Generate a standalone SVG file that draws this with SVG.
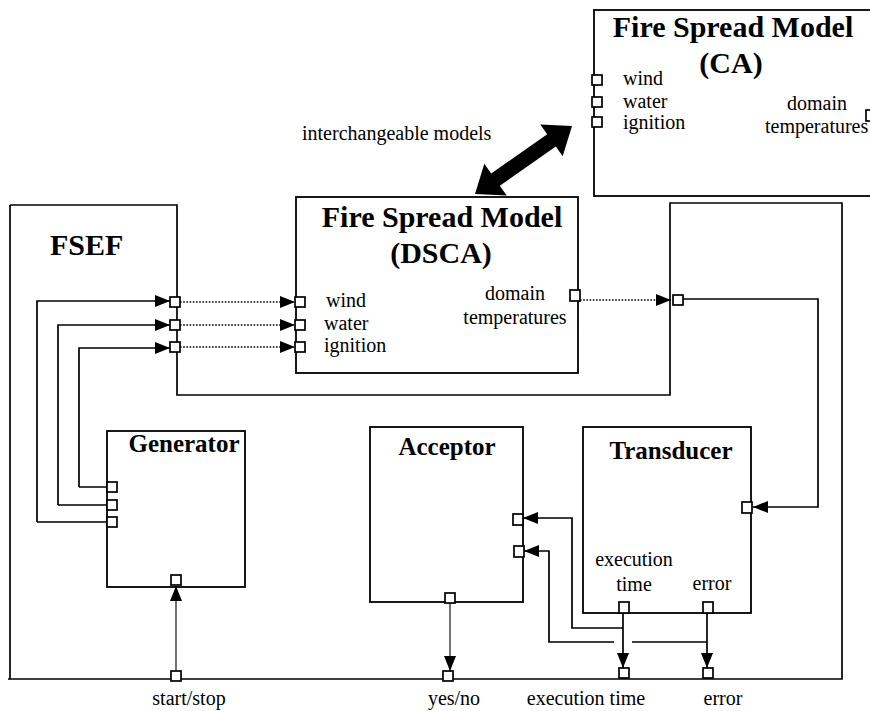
<svg xmlns="http://www.w3.org/2000/svg" width="870" height="711" viewBox="0 0 870 711">
<style>
text{font-family:"Liberation Serif","Times New Roman",serif;fill:#000}
.t{font-size:20px}
.b{font-size:30px;font-weight:bold}
.s{font-size:25px;font-weight:bold}
.box{fill:#fff;stroke:#000;stroke-width:1.8}
.port{fill:#fff;stroke:#000;stroke-width:1.7}
.ln{fill:none;stroke:#000;stroke-width:1.7}
.thin{fill:none;stroke:#000;stroke-width:1.1}
.dot{fill:none;stroke:#000;stroke-width:1.6;stroke-dasharray:1.6 1.6}
</style>
<defs>
<marker id="ah" markerUnits="userSpaceOnUse" markerWidth="16" markerHeight="13" refX="15" refY="6" orient="auto">
<path d="M0,0 L15,6 L0,12 z" fill="#000"/>
</marker>
</defs>
<rect width="870" height="711" fill="#fff"/>

<g id="fsef">
<path class="ln" d="M10,205 H177 V395 H670 V203 H842 V679 H8"/>
<path class="ln" d="M10,205 V679"/>
<text class="b" x="50" y="255">FSEF</text>
<rect class="port" x="170" y="297" width="10" height="10"/>
<rect class="port" x="170" y="320" width="10" height="10"/>
<rect class="port" x="170" y="342" width="10" height="10"/>
<rect class="port" x="673" y="295" width="10" height="10"/>
<rect class="port" x="171" y="671" width="10" height="10"/>
<rect class="port" x="443" y="671" width="10" height="10"/>
<rect class="port" x="619" y="668" width="10" height="10"/>
<rect class="port" x="703" y="668" width="10" height="10"/>
<text class="t" x="189" y="705" text-anchor="middle">start/stop</text>
<text class="t" x="454" y="705" text-anchor="middle">yes/no</text>
<text class="t" x="586" y="705" text-anchor="middle">execution time</text>
<text class="t" x="723" y="705" text-anchor="middle">error</text>
</g>

<g id="ca">
<rect class="box" x="594" y="10" width="290" height="186"/>
<text class="b" x="733" y="37" text-anchor="middle">Fire Spread Model</text>
<text class="b" x="731" y="73" text-anchor="middle">(CA)</text>
<rect class="port" x="592" y="75" width="10" height="10"/>
<rect class="port" x="592" y="97" width="10" height="10"/>
<rect class="port" x="592" y="117" width="10" height="10"/>
<rect class="port" x="866" y="110" width="10" height="11"/>
<text class="t" x="623" y="85">wind</text>
<text class="t" x="623" y="108">water</text>
<text class="t" x="623" y="129">ignition</text>
<text class="t" x="817" y="110" text-anchor="middle">domain</text>
<text class="t" x="765" y="133">temperatures</text>
</g>

<g id="dsca">
<rect class="box" x="296" y="197" width="282" height="176"/>
<text class="b" x="442" y="227" text-anchor="middle">Fire Spread Model</text>
<text class="b" x="441" y="263" text-anchor="middle">(DSCA)</text>
<rect class="port" x="295" y="297" width="10" height="10"/>
<rect class="port" x="295" y="320" width="10" height="10"/>
<rect class="port" x="295" y="342" width="10" height="10"/>
<rect class="port" x="570" y="290" width="10" height="11"/>
<text class="t" x="326" y="307">wind</text>
<text class="t" x="324" y="330">water</text>
<text class="t" x="324" y="352">ignition</text>
<text class="t" x="515" y="300" text-anchor="middle">domain</text>
<text class="t" x="515" y="324" text-anchor="middle">temperatures</text>
</g>

<g id="generator">
<rect class="box" x="107" y="431" width="138" height="156"/>
<text class="s" x="184" y="452" text-anchor="middle">Generator</text>
<rect class="port" x="107" y="482" width="10" height="10"/>
<rect class="port" x="107" y="500" width="10" height="10"/>
<rect class="port" x="107" y="517" width="10" height="10"/>
<rect class="port" x="171" y="575" width="10" height="10"/>
</g>

<g id="acceptor">
<rect class="box" x="370" y="427" width="153" height="175"/>
<text class="s" x="447" y="455" text-anchor="middle">Acceptor</text>
<rect class="port" x="513" y="514" width="10" height="11"/>
<rect class="port" x="514" y="546" width="10" height="11"/>
<rect class="port" x="445" y="593" width="10" height="10"/>
</g>

<g id="transducer">
<rect class="box" x="583" y="427" width="168" height="186"/>
<text class="s" x="671" y="459" text-anchor="middle">Transducer</text>
<rect class="port" x="742" y="502" width="10" height="11"/>
<rect class="port" x="619" y="602" width="10" height="11"/>
<rect class="port" x="703" y="602" width="10" height="11"/>
<text class="t" x="634" y="566" text-anchor="middle">execution</text>
<text class="t" x="634" y="591" text-anchor="middle">time</text>
<text class="t" x="712" y="590" text-anchor="middle">error</text>
</g>

<g id="label-interchange">
<text class="t" x="302" y="140">interchangeable models</text>
</g>

<g id="connectors">
<polygon fill="#000" points="475,194 506.7,195.6 499.8,185.8 555.8,146.5 562.7,156.3 572,126 540.3,124.4 547.2,134.2 491.2,173.5 484.3,163.7"/>
<path class="ln" d="M37,522 H107 M37,522 V301 H170" marker-end="url(#ah)"/>
<path class="ln" d="M58,505 H107 M58,505 V325 H170" marker-end="url(#ah)"/>
<path class="ln" d="M79,487 H107 M79,487 V348 H170" marker-end="url(#ah)"/>
<path class="dot" d="M180,302 H295" marker-end="url(#ah)"/>
<path class="dot" d="M180,325 H295" marker-end="url(#ah)"/>
<path class="dot" d="M180,347 H295" marker-end="url(#ah)"/>
<path class="dot" d="M580,300 H671" marker-end="url(#ah)"/>
<path class="ln" d="M683,299 H818 V507 H753" marker-end="url(#ah)"/>
<path class="thin" d="M176,671 V586" marker-end="url(#ah)"/>
<path class="thin" d="M450,603 V671" marker-end="url(#ah)"/>
<path class="ln" d="M623,613 V668" marker-end="url(#ah)"/>
<path class="ln" d="M707,613 V668" marker-end="url(#ah)"/>
<path class="ln" d="M623,628 H572 V518 H523" marker-end="url(#ah)"/>
<path class="ln" d="M614,642 H549 V551 H524" marker-end="url(#ah)"/>
<path class="ln" d="M632,642 H707"/>
</g>
</svg>
